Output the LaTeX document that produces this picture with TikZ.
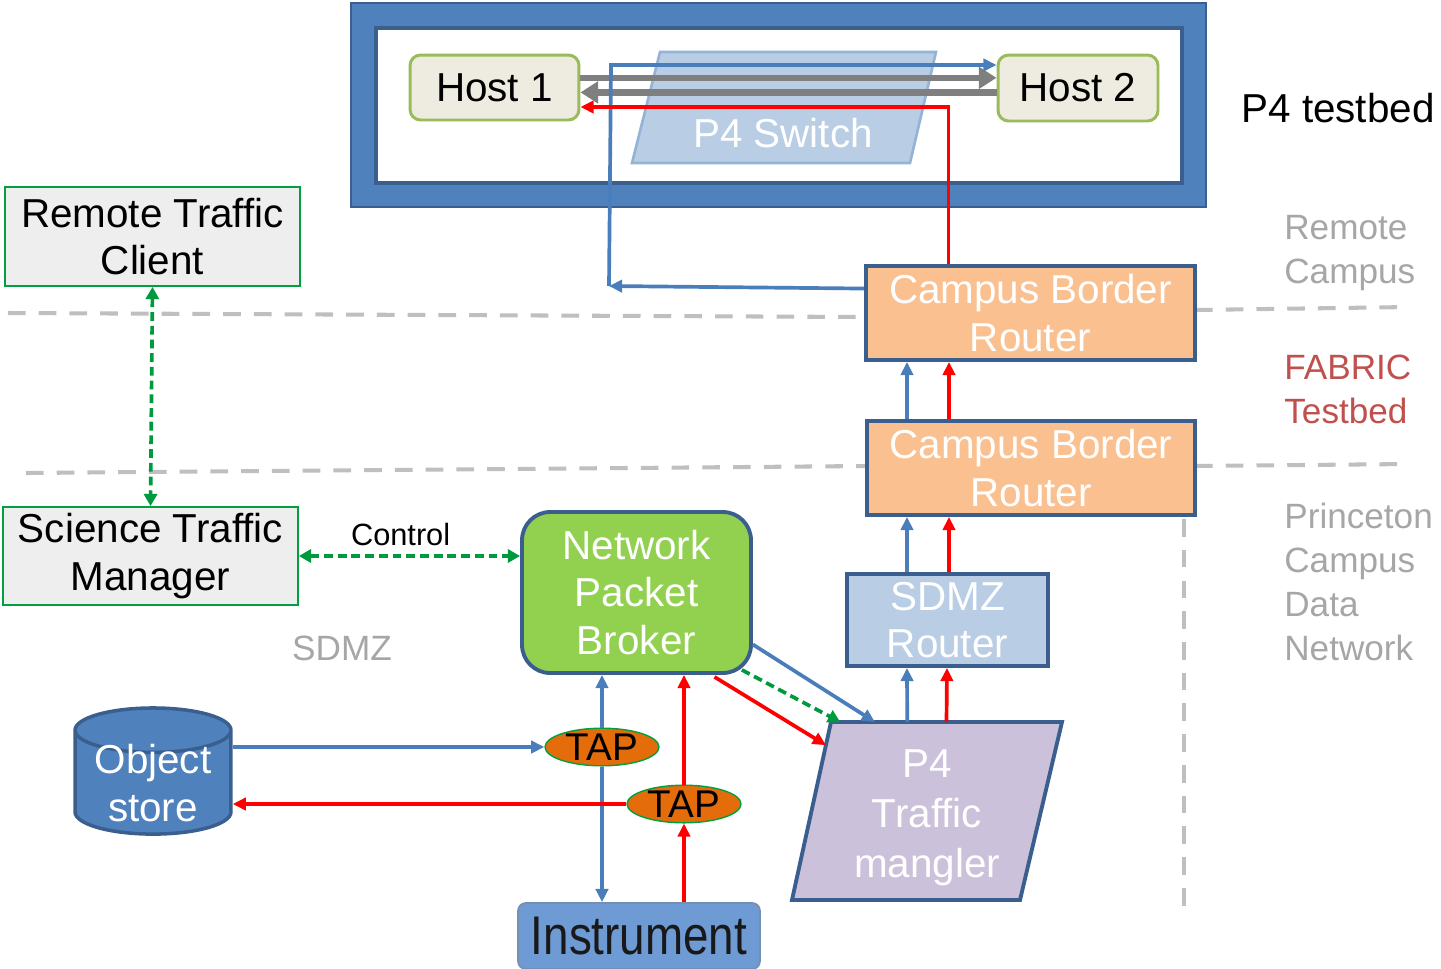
\documentclass[tikz,border=0pt]{standalone}
\usepackage{fontspec}
\setmainfont{Liberation Sans}
\usepackage{graphicx}
\usetikzlibrary{positioning,shapes.geometric,arrows.meta,calc}

\definecolor{frameblue}{HTML}{4F81BD}
\definecolor{edgeblue}{HTML}{3A5F8F}
\definecolor{hostfill}{HTML}{EEECE1}
\definecolor{hostedge}{HTML}{9BBB59}
\definecolor{switchfill}{HTML}{B9CDE5}
\definecolor{switchedge}{HTML}{95B3D7}
\definecolor{routerfill}{HTML}{FAC090}
\definecolor{brokerfill}{HTML}{92D050}
\definecolor{manglerfill}{HTML}{CCC1DA}
\definecolor{tapfill}{HTML}{E46C0A}
\definecolor{instrfill}{HTML}{6E9BD4}
\definecolor{ctrlgreen}{HTML}{009A3E}
\definecolor{flowblue}{HTML}{4A7EBB}
\definecolor{flowred}{HTML}{FF0000}
\definecolor{flowgray}{HTML}{7F7F7F}
\definecolor{sepgray}{HTML}{BFBFBF}
\definecolor{zonegray}{HTML}{A6A6A6}
\definecolor{fabricred}{HTML}{C0504D}
\definecolor{clientfill}{HTML}{EEEEEE}
\definecolor{clientedge}{HTML}{00A03E}

\tikzset{
  txt/.style={font=\fontsize{23}{27}\selectfont, align=center, inner sep=0pt},
  zone/.style={font=\fontsize{20}{25}\selectfont, align=left, inner sep=0pt, text=zonegray},
  hostbox/.style={txt, draw=hostedge, fill=hostfill, line width=1.7pt, rounded corners=6pt},
  clientbox/.style={txt, draw=clientedge, fill=clientfill, line width=1pt},
  routerbox/.style={txt, text=white, draw=edgeblue, line width=2.2pt},
  brokerbox/.style={txt, text=white, draw=edgeblue, fill=brokerfill, line width=2.2pt, rounded corners=16pt},
  switchpath/.style={draw=switchedge, fill=switchfill, line width=1.5pt},
  manglerpath/.style={draw=edgeblue, fill=manglerfill, line width=2.2pt},
  storeshape/.style={txt, text=white, cylinder, shape border rotate=90, aspect=0.38,
    draw=edgeblue, fill=frameblue, line width=2pt, inner ysep=-5.5pt},
  tapshape/.style={txt, ellipse, draw=clientedge, fill=tapfill, line width=0.8pt,
    minimum width=2.28cm, minimum height=0.64cm, font=\fontsize{22}{26}\selectfont},
  instrbox/.style={txt, text=black!90, draw=edgeblue!70, fill=instrfill, line width=1pt, rounded corners=4.5pt,
    font=\fontsize{31}{34}\selectfont},
  flow/.style={line width=2.1pt, -{Triangle[length=7.5pt,width=7pt]}},
  blueflow/.style={flow, draw=flowblue},
  redflow/.style={flow, draw=flowred},
  grayflow/.style={line width=3.6pt, draw=flowgray, -{Triangle[length=10pt,width=12pt]}},
  ctrl/.style={line width=2.1pt, draw=ctrlgreen, dash pattern=on 5pt off 2.8pt},
  ctrlboth/.style={ctrl, {Triangle[length=7pt,width=7.5pt]}-{Triangle[length=7pt,width=7.5pt]}},
  sep/.style={line width=2.3pt, draw=sepgray, dash pattern=on 10pt off 7.5pt}
}

\begin{document}
\begin{tikzpicture}[x=0.02cm, y=-0.02cm]
    \useasboundingbox (0,0) rectangle (1441,968);

    \draw[sep] (8,313) -- (866,317);
    \draw[sep] (1195,310) -- (1410,307);
    \draw[sep] (26,473) -- (866,466);
    \draw[sep] (1195,466) -- (1410,464);
    \draw[sep] (1184,519) -- (1184,918);

    \filldraw[draw=edgeblue, fill=frameblue, line width=1.5pt] (351,3) rectangle (1206,207);
    \filldraw[draw=edgeblue, fill=white, line width=2.2pt] (376,28) rectangle (1182,183);

    \filldraw[switchpath] (632,163) -- (660,52) -- (936,52) -- (910,163) -- cycle;
    \node[txt, text=white] (switchlbl) at (783,133) {P4 Switch};
    \node[hostbox, minimum width=3.38cm, minimum height=1.3cm] (host1) at (494.5,87.5) {Host 1};
    \node[hostbox, minimum width=3.2cm, minimum height=1.32cm] (host2) at (1078,88) {Host 2};
    \node[txt] (testbedlbl) at (1338,108) {P4 testbed};

    \node[clientbox, minimum width=5.9cm, minimum height=1.98cm] (rtc) at (152.5,236.5) {Remote Traffic\\Client};
    \node[clientbox, minimum width=5.9cm, minimum height=1.96cm] (stm) at (150.5,556) {Science Traffic\\Manager};

    \node[routerbox, fill=routerfill, minimum width=6.58cm, minimum height=1.88cm] (cbr1) at (1030.5,313) {Campus Border\\Router};
    \node[routerbox, fill=routerfill, minimum width=6.56cm, minimum height=1.88cm] (cbr2) at (1031,468) {Campus Border\\Router};
    \node[routerbox, fill=switchfill, minimum width=4.02cm, minimum height=1.84cm] (sdmz) at (947.5,620) {SDMZ\\Router};
    \node[brokerbox, minimum width=4.58cm, minimum height=3.22cm] (npb) at (636.5,592.5) {Network\\Packet\\Broker};

    \coordinate (mtl) at (831,722);
    \coordinate (mtr) at (1062,722);
    \coordinate (mbr) at (1020,900);
    \coordinate (mbl) at (792,900);
    \filldraw[manglerpath] (mtl) -- (mtr) -- (mbr) -- (mbl) -- cycle;
    \node[txt, text=white, font=\fontsize{23}{28.5}\selectfont] (mangler) at (927,818) {P4\\Traffic\\mangler};

    \node[storeshape, minimum width=3.12cm] (store) at (153,783) {Object\\store};
    \node[tapshape] (tap1) at (602,747) {TAP};
    \node[tapshape] (tap2) at (684,804) {TAP};
    \node[instrbox, minimum width=4.84cm, minimum height=1.32cm] (instr) at (639,936) {\scalebox{0.84}[1]{Instrument}};

    \node[zone, anchor=west] (remotelbl) at (1284,253) {Remote\\Campus};
    \node[zone, anchor=west, text=fabricred] (fabriclbl) at (1284,389) {FABRIC\\Testbed};
    \node[zone, anchor=west] (princetonlbl) at (1284,582) {Princeton\\Campus\\Data\\Network};
    \node[zone] (sdmzlbl) at (342,648) {SDMZ};

    \coordinate (bluebend) at (609,286);
    \coordinate (bluetop) at (611,65);
    \draw[grayflow] ([yshift=5.5pt]host1.east) -- ([yshift=5.5pt]host1.east -| host2.west);
    \draw[grayflow] ([yshift=-2.5pt]host2.west) -- ([yshift=-2.5pt]host2.west -| host1.east);
    \draw[blueflow] ($(cbr1.north west)!0.25!(cbr1.south west)$) -- (bluebend);
    \draw[blueflow] (bluebend) -- (bluetop) -- (bluetop -| host2.west);
    \draw[redflow] ($(cbr1.north)+(-82,0)$) |- ($(host1.east)+(0,19.5)$);

    \draw[blueflow] ($(cbr2.north)+(-124,0)$) -- ($(cbr1.south)+(-123.5,0)$);
    \draw[redflow] ($(cbr2.north)+(-82,0)$) -- ($(cbr1.south)+(-81.5,0)$);
    \draw[blueflow] ($(sdmz.north)+(-40.5,0)$) -- ($(cbr2.south)+(-124,0)$);
    \draw[redflow] ($(sdmz.north)+(1.5,0)$) -- ($(cbr2.south)+(-82,0)$);
    \draw[blueflow] ($(mtl)!0.33!(mtr)$) -- ($(sdmz.south)+(-40.5,0)$);
    \draw[redflow] ($(mtl)!0.5!(mtr)$) -- ($(sdmz.south)+(-0.5,0)$);

    \draw[blueflow] ($(npb.east)+(0,52)$) -- ($(mtl)!0.19!(mtr)$);
    \draw[ctrl, -{Triangle[length=7pt,width=7.5pt]}] ($(npb.south east)+(-11,-5)$) -- ($(mtl)!0.04!(mtr)$);
    \draw[redflow] ($(npb.south)+(78,2)$) -- ($(mtl)!0.13!(mbl)$);

    \draw[blueflow] (store.east |- tap1.west) -- (tap1.west);
    \draw[blueflow] (tap1.north) -- (tap1.north |- npb.south);
    \draw[blueflow] (tap1.south) -- (tap1.south |- instr.north);
    \draw[redflow] (instr.north -| tap2.south) -- (tap2.south);
    \draw[redflow] (tap2.north) -- (tap2.north |- npb.south);
    \draw[redflow] (tap2.west) -- (tap2.west -| store.east);

    \draw[ctrlboth] (rtc.south) -- (stm.north);
    \draw[ctrlboth] (stm.east) -- (stm.east -| npb.west)
        node[pos=0.46, above=5pt, font=\fontsize{17.5}{20}\selectfont, inner sep=0pt] (ctrllbl) {Control};
\end{tikzpicture}
\end{document}
